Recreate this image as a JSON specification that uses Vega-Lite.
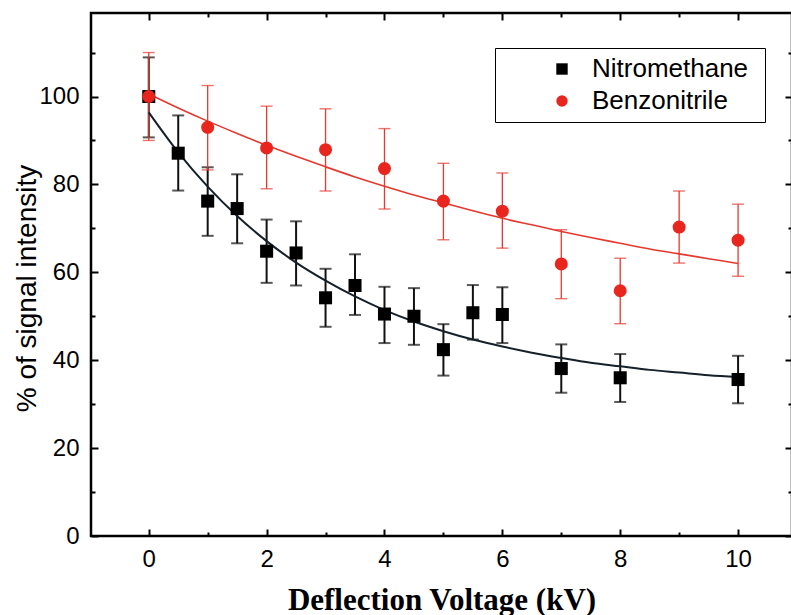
{
  "$schema": "https://vega.github.io/schema/vega-lite/v6.json",
  "width": 701,
  "height": 523,
  "autosize": {"type": "none"},
  "padding": {"left": 91, "top": 13, "right": 0, "bottom": 79},
  "background": "white",
  "config": {
    "view": {"stroke": "black", "strokeWidth": 2.5},
    "axis": {"grid": false, "domain": false, "tickColor": "black", "labelColor": "black", "labelFont": "Liberation Sans", "labelFontSize": 24, "titleColor": "black"}
  },
  "datasets": {
    "pts": [
      {"series": "Nitromethane", "x": 0, "y": 100, "lo": 90.7, "hi": 108.9},
      {"series": "Nitromethane", "x": 0.5, "y": 87.1, "lo": 78.6, "hi": 95.7},
      {"series": "Nitromethane", "x": 1, "y": 76.2, "lo": 68.3, "hi": 83.9},
      {"series": "Nitromethane", "x": 1.5, "y": 74.5, "lo": 66.6, "hi": 82.3},
      {"series": "Nitromethane", "x": 2, "y": 64.8, "lo": 57.6, "hi": 72.0},
      {"series": "Nitromethane", "x": 2.5, "y": 64.4, "lo": 57.0, "hi": 71.6},
      {"series": "Nitromethane", "x": 3, "y": 54.2, "lo": 47.6, "hi": 60.8},
      {"series": "Nitromethane", "x": 3.5, "y": 57.0, "lo": 50.3, "hi": 64.1},
      {"series": "Nitromethane", "x": 4, "y": 50.5, "lo": 43.9, "hi": 56.7},
      {"series": "Nitromethane", "x": 4.5, "y": 50.0, "lo": 43.5, "hi": 56.4},
      {"series": "Nitromethane", "x": 5, "y": 42.4, "lo": 36.5, "hi": 48.2},
      {"series": "Nitromethane", "x": 5.5, "y": 50.8, "lo": 44.7, "hi": 57.1},
      {"series": "Nitromethane", "x": 6, "y": 50.4, "lo": 43.9, "hi": 56.6},
      {"series": "Nitromethane", "x": 7, "y": 38.1, "lo": 32.6, "hi": 43.6},
      {"series": "Nitromethane", "x": 8, "y": 36.0, "lo": 30.5, "hi": 41.4},
      {"series": "Nitromethane", "x": 10, "y": 35.6, "lo": 30.2, "hi": 41.0},
      {"series": "Benzonitrile", "x": 0, "y": 100, "lo": 90.0, "hi": 110.0},
      {"series": "Benzonitrile", "x": 1, "y": 93.0, "lo": 83.3, "hi": 102.5},
      {"series": "Benzonitrile", "x": 2, "y": 88.3, "lo": 79.0, "hi": 97.8},
      {"series": "Benzonitrile", "x": 3, "y": 87.9, "lo": 78.5, "hi": 97.2},
      {"series": "Benzonitrile", "x": 4, "y": 83.6, "lo": 74.4, "hi": 92.7},
      {"series": "Benzonitrile", "x": 5, "y": 76.2, "lo": 67.4, "hi": 84.8},
      {"series": "Benzonitrile", "x": 6, "y": 73.9, "lo": 65.5, "hi": 82.6},
      {"series": "Benzonitrile", "x": 7, "y": 61.9, "lo": 54.0, "hi": 69.7},
      {"series": "Benzonitrile", "x": 8, "y": 55.8, "lo": 48.3, "hi": 63.2},
      {"series": "Benzonitrile", "x": 9, "y": 70.3, "lo": 62.1, "hi": 78.5},
      {"series": "Benzonitrile", "x": 10, "y": 67.3, "lo": 59.1, "hi": 75.5}
    ],
    "fit": [
      {"series": "Nitromethane", "x": 0, "y": 96.4},
      {"series": "Nitromethane", "x": 0.5, "y": 87.3},
      {"series": "Nitromethane", "x": 1, "y": 79.5},
      {"series": "Nitromethane", "x": 1.5, "y": 72.8},
      {"series": "Nitromethane", "x": 2, "y": 67.1},
      {"series": "Nitromethane", "x": 2.5, "y": 62.2},
      {"series": "Nitromethane", "x": 3, "y": 58.1},
      {"series": "Nitromethane", "x": 3.5, "y": 54.5},
      {"series": "Nitromethane", "x": 4, "y": 51.4},
      {"series": "Nitromethane", "x": 4.5, "y": 48.8},
      {"series": "Nitromethane", "x": 5, "y": 46.6},
      {"series": "Nitromethane", "x": 5.5, "y": 44.7},
      {"series": "Nitromethane", "x": 6, "y": 43.1},
      {"series": "Nitromethane", "x": 6.5, "y": 41.7},
      {"series": "Nitromethane", "x": 7, "y": 40.5},
      {"series": "Nitromethane", "x": 7.5, "y": 39.4},
      {"series": "Nitromethane", "x": 8, "y": 38.6},
      {"series": "Nitromethane", "x": 8.5, "y": 37.8},
      {"series": "Nitromethane", "x": 9, "y": 37.2},
      {"series": "Nitromethane", "x": 9.5, "y": 36.6},
      {"series": "Nitromethane", "x": 10, "y": 36.2},
      {"series": "Benzonitrile", "x": 0, "y": 100.6},
      {"series": "Benzonitrile", "x": 0.5, "y": 97.4},
      {"series": "Benzonitrile", "x": 1, "y": 94.4},
      {"series": "Benzonitrile", "x": 1.5, "y": 91.6},
      {"series": "Benzonitrile", "x": 2, "y": 88.9},
      {"series": "Benzonitrile", "x": 2.5, "y": 86.4},
      {"series": "Benzonitrile", "x": 3, "y": 84.0},
      {"series": "Benzonitrile", "x": 3.5, "y": 81.7},
      {"series": "Benzonitrile", "x": 4, "y": 79.6},
      {"series": "Benzonitrile", "x": 4.5, "y": 77.6},
      {"series": "Benzonitrile", "x": 5, "y": 75.8},
      {"series": "Benzonitrile", "x": 5.5, "y": 74.0},
      {"series": "Benzonitrile", "x": 6, "y": 72.3},
      {"series": "Benzonitrile", "x": 6.5, "y": 70.8},
      {"series": "Benzonitrile", "x": 7, "y": 69.3},
      {"series": "Benzonitrile", "x": 7.5, "y": 67.9},
      {"series": "Benzonitrile", "x": 8, "y": 66.6},
      {"series": "Benzonitrile", "x": 8.5, "y": 65.3},
      {"series": "Benzonitrile", "x": 9, "y": 64.2},
      {"series": "Benzonitrile", "x": 9.5, "y": 63.1},
      {"series": "Benzonitrile", "x": 10, "y": 62.0}
    ]
  },
  "resolve": {"axis": {"x": "independent", "y": "independent"}},
  "layer": [
    {
      "data": {"name": "pts"},
      "transform": [{"filter": "datum.series === 'Nitromethane'"}],
      "mark": {"type": "rule", "color": "#111111", "strokeWidth": 2},
      "encoding": {
        "x": {"field": "x", "type": "quantitative", "scale": {"domain": [-0.98, 10.915], "nice": false, "zero": false},
              "axis": {"orient": "top", "values": [0, 2, 4, 6, 8, 10], "tickSize": -7, "tickWidth": 2, "labels": false, "title": null}},
        "y": {"field": "lo", "type": "quantitative", "scale": {"domain": [0, 119], "nice": false, "zero": false},
              "axis": {"orient": "right", "values": [0, 20, 40, 60, 80, 100], "tickSize": -7, "tickWidth": 2, "labels": false, "title": null}},
        "y2": {"field": "hi"}
      }
    },
    {
      "data": {"name": "pts"},
      "transform": [{"filter": "datum.series === 'Nitromethane'"}],
      "mark": {"type": "tick", "color": "#111111", "orient": "horizontal", "size": 12, "thickness": 2},
      "encoding": {
        "x": {"field": "x", "type": "quantitative", "axis": null},
        "y": {"field": "lo", "type": "quantitative", "axis": null}
      }
    },
    {
      "data": {"name": "pts"},
      "transform": [{"filter": "datum.series === 'Nitromethane'"}],
      "mark": {"type": "tick", "color": "#111111", "orient": "horizontal", "size": 12, "thickness": 2},
      "encoding": {
        "x": {"field": "x", "type": "quantitative", "axis": null},
        "y": {"field": "hi", "type": "quantitative", "axis": null}
      }
    },
    {
      "data": {"name": "pts"},
      "transform": [{"filter": "datum.series === 'Benzonitrile'"}],
      "mark": {"type": "rule", "color": "#e5392f", "strokeWidth": 1.3},
      "encoding": {
        "x": {"field": "x", "type": "quantitative",
              "axis": {"orient": "top", "values": [1, 3, 5, 7, 9], "tickSize": -4, "tickWidth": 2, "labels": false, "title": null}},
        "y": {"field": "lo", "type": "quantitative",
              "axis": {"orient": "right", "values": [10, 30, 50, 70, 90, 110], "tickSize": -4, "tickWidth": 2, "labels": false, "title": null}},
        "y2": {"field": "hi"}
      }
    },
    {
      "data": {"name": "pts"},
      "transform": [{"filter": "datum.series === 'Benzonitrile'"}],
      "mark": {"type": "tick", "color": "#e5392f", "orient": "horizontal", "size": 12, "thickness": 1.4},
      "encoding": {
        "x": {"field": "x", "type": "quantitative", "axis": null},
        "y": {"field": "lo", "type": "quantitative", "axis": null}
      }
    },
    {
      "data": {"name": "pts"},
      "transform": [{"filter": "datum.series === 'Benzonitrile'"}],
      "mark": {"type": "tick", "color": "#e5392f", "orient": "horizontal", "size": 12, "thickness": 1.4},
      "encoding": {
        "x": {"field": "x", "type": "quantitative", "axis": null},
        "y": {"field": "hi", "type": "quantitative", "axis": null}
      }
    },
    {
      "data": {"name": "fit"},
      "transform": [{"filter": "datum.series === 'Nitromethane'"}],
      "mark": {"type": "line", "color": "#15202b", "strokeWidth": 2, "interpolate": "monotone"},
      "encoding": {
        "x": {"field": "x", "type": "quantitative",
              "axis": {"orient": "bottom", "values": [1, 3, 5, 7, 9], "tickSize": -4, "tickWidth": 2, "labels": false, "title": null}},
        "y": {"field": "y", "type": "quantitative",
              "axis": {"orient": "left", "values": [10, 30, 50, 70, 90, 110], "tickSize": -4, "tickWidth": 2, "labels": false, "title": null}}
      }
    },
    {
      "data": {"name": "fit"},
      "transform": [{"filter": "datum.series === 'Benzonitrile'"}],
      "mark": {"type": "line", "color": "#e5392f", "strokeWidth": 1.6, "interpolate": "monotone"},
      "encoding": {
        "x": {"field": "x", "type": "quantitative",
              "axis": {"orient": "bottom", "values": [0, 2, 4, 6, 8, 10], "tickSize": -7, "tickWidth": 2, "labelPadding": 18, "labelFontSize": 24,
                       "title": "Deflection Voltage (kV)", "titleFont": "Liberation Serif", "titleFontWeight": "bold", "titleFontSize": 31,
                       "titleY": 73, "titleBaseline": "alphabetic"}},
        "y": {"field": "y", "type": "quantitative",
              "axis": {"orient": "left", "values": [0, 20, 40, 60, 80, 100], "tickSize": -7, "tickWidth": 2, "labelPadding": 19, "labelFontSize": 24,
                       "title": "% of signal intensity", "titleFont": "Liberation Sans", "titleFontWeight": "normal", "titleFontSize": 28,
                       "titleX": -64, "titleY": 275, "titleAngle": -90, "titleBaseline": "middle", "titleAlign": "center"}}
      }
    },
    {
      "data": {"name": "pts"},
      "mark": {"type": "point", "filled": true, "opacity": 1, "size": 170},
      "encoding": {
        "x": {"field": "x", "type": "quantitative", "axis": null},
        "y": {"field": "y", "type": "quantitative", "axis": null},
        "color": {"field": "series", "type": "nominal",
                  "scale": {"domain": ["Nitromethane", "Benzonitrile"], "range": ["#000000", "#e8261e"]},
                  "legend": {"orient": "none", "legendX": 404, "legendY": 35, "title": " ", "titleOrient": "right", "titleAnchor": "start",
                             "titleBaseline": "bottom", "titleFontSize": 10, "titlePadding": 9,
                             "padding": 8, "strokeColor": "black", "fillColor": "white",
                             "labelFont": "Liberation Sans", "labelFontSize": 26, "labelColor": "black", "labelOffset": 17,
                             "symbolOffset": 46, "symbolSize": 130, "symbolStrokeWidth": 0, "rowPadding": 6}},
        "shape": {"field": "series", "type": "nominal",
                  "scale": {"domain": ["Nitromethane", "Benzonitrile"], "range": ["square", "circle"]},
                  "legend": {"orient": "none", "legendX": 404, "legendY": 35, "title": " ", "titleOrient": "right", "titleAnchor": "start",
                             "titleBaseline": "bottom", "titleFontSize": 10, "titlePadding": 9,
                             "padding": 8, "strokeColor": "black", "fillColor": "white",
                             "labelFont": "Liberation Sans", "labelFontSize": 26, "labelColor": "black", "labelOffset": 17,
                             "symbolOffset": 46, "symbolSize": 130, "symbolStrokeWidth": 0, "rowPadding": 6}}
      }
    }
  ]
}
